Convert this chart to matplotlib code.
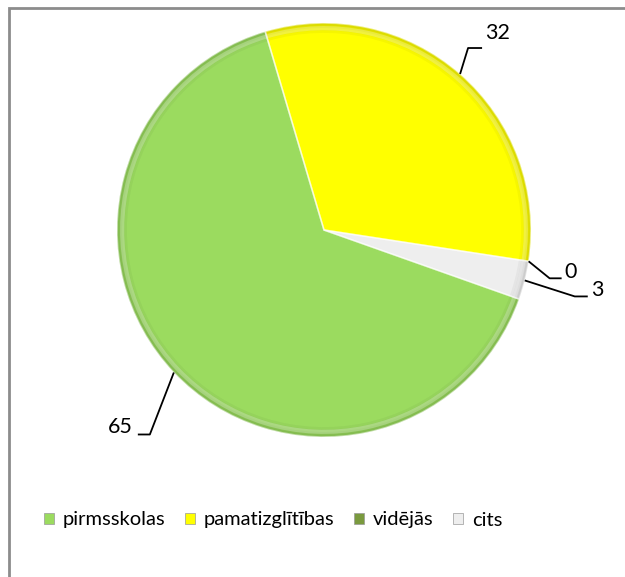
import numpy as np
import matplotlib.pyplot as plt
from matplotlib.patches import Patch, Rectangle, Wedge

categories = ['pirmsskolas', 'pamatizglītības', 'vidējās', 'cits']
values = [65, 32, 0, 3]
colors = ['#9BDB5F', '#FFFF00', '#7A9A3E', '#EEEEEE']

# leader line layout in pixels: (elbow dx, elbow dy, horizontal run)
leaders = [(-24, 62, -12), (8, -26, 14), (21, 17, 12), (50, 16, 13)]

W, H = 625, 577
cx, cy, R = 324, 230, 207

fig = plt.figure(figsize=(W / 100, H / 100), dpi=100)
ax = fig.add_axes([0, 0, 1, 1])
ax.axis('off')

# outer chart border (extends past the image on right/bottom)
fig.patches.append(Rectangle((9 / W, -0.1), 1.2, 1 - 8 / H + 0.1, transform=fig.transFigure,
                             fill=False, edgecolor='#8C8C8C', linewidth=2))

wedges, _ = ax.pie(values, colors=colors, startangle=-19.5, counterclock=False,
                   radius=1, wedgeprops=dict(linewidth=0))
ax.set_xlim(-cx / R, (W - cx) / R)
ax.set_ylim((cy - H) / R, cy / R)

# soft bevel on the rim and along the slice edges
for w in wedges:
    if w.theta2 - w.theta1 < 1e-6:
        continue
    for k in range(4):
        ax.add_patch(Wedge((0, 0), 1, w.theta1, w.theta2, width=0.012 * (k + 1),
                           facecolor='black', alpha=0.035, linewidth=0))
    ax.add_patch(Wedge((0, 0), 0.985, w.theta1, w.theta2, width=0.02,
                       facecolor='white', alpha=0.25, linewidth=0))
    ax.add_patch(Wedge((0, 0), 1, w.theta1, w.theta2, fill=False,
                       edgecolor='white', alpha=0.5, linewidth=1.2))

px = 1 / R
for w, v, (ex, ey, hr) in zip(wedges, values, leaders):
    ang = np.deg2rad((w.theta1 + w.theta2) / 2)
    x0, y0 = np.cos(ang), np.sin(ang)
    x1, y1 = x0 + ex * px, y0 - ey * px
    x2 = x1 + hr * px
    ax.plot([x0, x1, x2], [y0, y1, y1], color='black', linewidth=1.3, solid_capstyle='butt')
    if hr < 0:
        ax.text(x2 - 5 * px, y1 + 7 * px, str(v), ha='right', va='center', fontsize=15.5, family='Lato')
    else:
        ax.text(x2 + 3 * px, y1 + 15 * px if ey < 0 else y1 + 6 * px, str(v), ha='left', va='center',
                fontsize=15.5, family='Lato')

handles = [Patch(facecolor=c, edgecolor='#999999', linewidth=0.5) for c in colors]
fig.legend(handles, categories, loc='center', bbox_to_anchor=(273 / W, 1 - 520 / H), ncol=4,
           frameon=False, prop={'family': 'Lato', 'size': 14.5}, handlelength=0.5, handleheight=0.5,
           handletextpad=0.45, columnspacing=0.95)

fig.savefig('out.png', dpi=100)
